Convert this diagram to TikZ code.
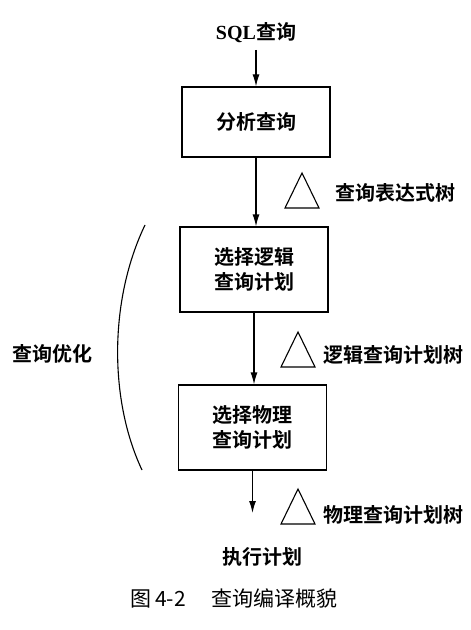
\documentclass[tikz,border=0pt]{standalone}
\usepackage{fontspec}
\setmainfont{Liberation Serif}
\newfontfamily\cjk{Noto Sans CJK SC}
\newfontfamily\cjkbf{Noto Sans CJK SC Bold}
\usetikzlibrary{arrows.meta, positioning}

\tikzset{
  stagebox/.style={draw, line width=1.2bp, minimum width=148bp, inner sep=0pt,
    align=center, font=\cjkbf\fontsize{20bp}{25bp}\selectfont},
  lbl/.style={inner sep=0pt, font=\cjkbf\fontsize{20bp}{25bp}\selectfont},
  flow/.style={->, line width=1.2bp},
  treetri/.pic={\draw[line width=1.1bp, line join=miter] (0,0) -- (-17,35) -- (17,35) -- cycle;}
}

\begin{document}
\begin{tikzpicture}[x=1bp, y=-1bp, >={Latex[length=12bp, width=7bp]}]
  \useasboundingbox (0,0) rectangle (471,630);
  % main flow
  \node[lbl] (sql) at (256,33) {{\rmfamily\bfseries SQL}查询};
  \node[stagebox, minimum height=70bp] (parse) at (256,122) {分析查询};
  \node[stagebox, minimum height=85bp] (logical) at (254,269.5) {选择逻辑\\查询计划};
  \node[stagebox, minimum height=85bp] (physical) at (252.5,427.5) {选择物理\\查询计划};
  \coordinate (planend) at (252.5,513);
  \node[lbl] (exec) at (262,557) {执行计划};
  \draw[flow] (sql.south |- 0,50) -- (parse.north);
  \draw[flow] (parse.south) -- (parse.south |- logical.north);
  \draw[flow] (logical.south) -- (logical.south |- physical.north);
  \draw[flow] (physical.south) -- (planend);
  % trees
  \pic at (302,173) {treetri};
  \node[lbl, anchor=west] (exprtree) at (335,193) {查询表达式树};
  \pic at (298,332) {treetri};
  \node[lbl, anchor=west] (logtree) at (323,355) {逻辑查询计划树};
  \pic at (298,489) {treetri};
  \node[lbl, anchor=west] (phystree) at (323,515) {物理查询计划树};
  % optimisation bracket
  \draw[line width=1.1bp] (145,225) .. controls (109,300) and (109,400) .. (142,470);
  \node[lbl] (opt) at (52,354) {查询优化};
  % caption
  \node[inner sep=0pt, font=\cjk\fontsize{21bp}{25bp}\selectfont] (caption) at (234,598) {图\,4-2\hspace{1.2em}查询编译概貌};
\end{tikzpicture}
\end{document}
